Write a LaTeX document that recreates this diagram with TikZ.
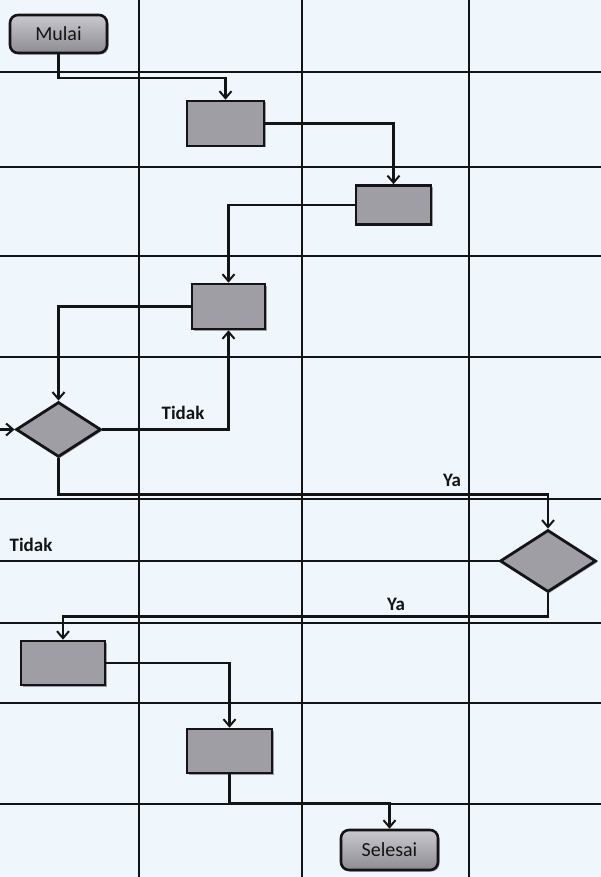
\documentclass[tikz,border=0pt]{standalone}
\usepackage{fontspec}
\setmainfont{Carlito}
\usetikzlibrary{shapes.geometric,arrows.meta,shadows}
\definecolor{bgcol}{RGB}{240,247,252}
\definecolor{boxfill}{RGB}{158,158,164}
\definecolor{termtop}{RGB}{200,200,206}
\definecolor{termbot}{RGB}{140,140,146}
\definecolor{inkcol}{RGB}{20,20,20}
\tikzset{
  gridline/.style={draw=inkcol, line width=2.1pt},
  shad/.style={drop shadow={shadow xshift=1.5pt, shadow yshift=-1.5pt, opacity=0.35, fill=black}},
  procbox/.style={rectangle, draw=inkcol, line width=2.6pt, fill=boxfill, inner sep=0pt, shad},
  termbox/.style={rectangle, rounded corners=8pt, draw=inkcol, line width=2.6pt, top color=termtop, bottom color=termbot, inner sep=0pt, shad, font=\fontsize{20}{22}\selectfont, text=inkcol},
  decbox/.style={diamond, draw=inkcol, line width=2.8pt, fill=boxfill, inner sep=0pt, shad},
  flow/.style={draw=inkcol, line width=2.4pt},
  arr/.style={flow, -{Straight Barb[length=7pt,width=12pt,line width=2pt]}},
  lbl/.style={font=\bfseries\fontsize{19}{21}\selectfont, text=inkcol},
}
\begin{document}
\begin{tikzpicture}[x=1pt,y=-1pt]
\fill[bgcol] (0,0) rectangle (601,877);
\useasboundingbox (0,0) rectangle (601,877);
% grid
\foreach \gx in {139,302,469} \draw[gridline] (\gx,0) -- (\gx,877);
\foreach \gy in {72,167,256,357,499,623,703,804} \draw[gridline] (0,\gy) -- (601,\gy);
% nodes
\node[termbox, minimum width=97pt, minimum height=38pt] (mulai) at (58.5,34) {Mulai};
\node[procbox, minimum width=77pt, minimum height=45pt] (b1) at (225.5,123.5) {};
\node[procbox, minimum width=75pt, minimum height=39pt] (b2) at (393.5,205) {};
\node[procbox, minimum width=73pt, minimum height=45pt] (b3) at (228.5,306.5) {};
\node[decbox, minimum width=85pt, minimum height=55pt] (d1) at (58.5,429.5) {};
\node[decbox, minimum width=96pt, minimum height=62pt] (d2) at (548,561) {};
\node[procbox, minimum width=84pt, minimum height=44pt] (b4) at (63,663) {};
\node[procbox, minimum width=85pt, minimum height=44pt] (b5) at (229.5,751) {};
\node[termbox, minimum width=97pt, minimum height=40pt] (selesai) at (389.5,850) {Selesai};
\coordinate (inl) at (0,429.5);
\coordinate (outl) at (0,561);
% connectors
\draw[arr] (mulai.south) -- ++(0,24) -| (b1.north);
\draw[arr] (b1.east) -| (b2.north);
\draw[arr] (b2.west) -| (b3.north);
\draw[arr] (b3.west) -| (d1.north);
\draw[arr] (d1.east) -| (b3.south);
\draw[arr] (d1.south) -- ++(0,36) -| (d2.north);
\draw[flow] (d2.west) -- (outl);
\draw[arr] (inl) -- (d1.west);
\draw[arr] (d2.south) -- ++(0,23) -| (b4.north);
\draw[arr] (b4.east) -| (b5.north);
\draw[arr] (b5.south) -- ++(0,29) -| (selesai.north);
% labels
\node[lbl] (t1) at (183,413) {Tidak};
\node[lbl] (y1) at (452,480) {Ya};
\node[lbl] (t2) at (31,545) {Tidak};
\node[lbl] (y2) at (396,604) {Ya};
\end{tikzpicture}
\end{document}
